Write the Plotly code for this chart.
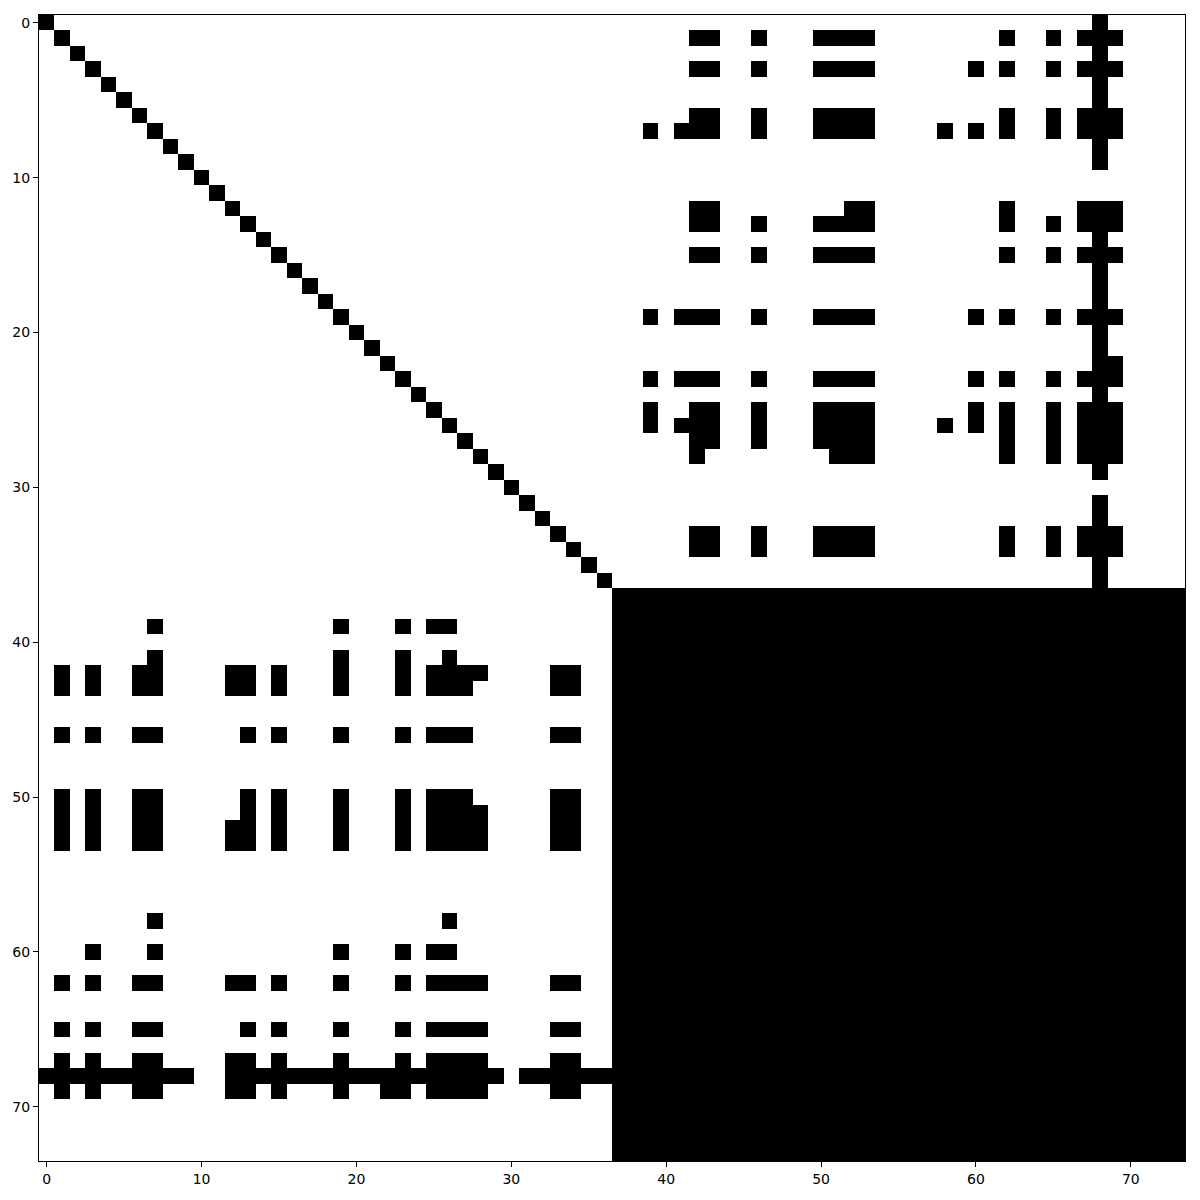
import numpy as np
import plotly.graph_objects as go

N = 74
SPLIT = 37  # first index of the dense lower-right block

# Non-zero columns (>= 37) in each of rows 0..36 of the upper-right block.
# The matrix is symmetric, so the lower-left block is the transpose of this.
upper_right_rows = {
    0: [68],
    1: [42, 43, 46, 50, 51, 52, 53, 62, 65, 67, 68, 69],
    2: [68],
    3: [42, 43, 46, 50, 51, 52, 53, 60, 62, 65, 67, 68, 69],
    4: [68],
    5: [68],
    6: [42, 43, 46, 50, 51, 52, 53, 62, 65, 67, 68, 69],
    7: [39, 41, 42, 43, 46, 50, 51, 52, 53, 58, 60, 62, 65, 67, 68, 69],
    8: [68],
    9: [68],
    10: [],
    11: [],
    12: [42, 43, 52, 53, 62, 67, 68, 69],
    13: [42, 43, 46, 50, 51, 52, 53, 62, 65, 67, 68, 69],
    14: [68],
    15: [42, 43, 46, 50, 51, 52, 53, 62, 65, 67, 68, 69],
    16: [68],
    17: [68],
    18: [68],
    19: [39, 41, 42, 43, 46, 50, 51, 52, 53, 60, 62, 65, 67, 68, 69],
    20: [68],
    21: [68],
    22: [68, 69],
    23: [39, 41, 42, 43, 46, 50, 51, 52, 53, 60, 62, 65, 67, 68, 69],
    24: [68],
    25: [39, 42, 43, 46, 50, 51, 52, 53, 60, 62, 65, 67, 68, 69],
    26: [39, 41, 42, 43, 46, 50, 51, 52, 53, 58, 60, 62, 65, 67, 68, 69],
    27: [42, 43, 46, 50, 51, 52, 53, 62, 65, 67, 68, 69],
    28: [42, 51, 52, 53, 62, 65, 67, 68, 69],
    29: [68],
    30: [],
    31: [68],
    32: [68],
    33: [42, 43, 46, 50, 51, 52, 53, 62, 65, 67, 68, 69],
    34: [42, 43, 46, 50, 51, 52, 53, 62, 65, 67, 68, 69],
    35: [68],
    36: [68],
}

tick_values = [0, 10, 20, 30, 40, 50, 60, 70]

# Build the matrix
M = np.zeros((N, N), dtype=int)
for i in range(SPLIT):
    M[i, i] = 1
for r, cols in upper_right_rows.items():
    for c in cols:
        M[r, c] = 1
        M[c, r] = 1
M[SPLIT:, SPLIT:] = 1

fig = go.Figure(
    go.Heatmap(
        z=M,
        x=list(range(N)),
        y=list(range(N)),
        colorscale=[[0, "white"], [1, "black"]],
        zmin=0,
        zmax=1,
        showscale=False,
        hoverinfo="skip",
    )
)

axis_common = dict(
    tickmode="array",
    tickvals=tick_values,
    ticktext=[str(v) for v in tick_values],
    ticks="outside",
    ticklen=5,
    tickwidth=1,
    tickcolor="black",
    showline=True,
    linecolor="black",
    linewidth=1,
    mirror=True,
    showgrid=False,
    zeroline=False,
    tickfont=dict(family="DejaVu Sans", size=14, color="black"),
)

fig.update_xaxes(range=[-0.5, N - 0.5], **axis_common)
fig.update_yaxes(range=[N - 0.5, -0.5], **axis_common)

fig.update_layout(
    width=1200,
    height=1200,
    margin=dict(l=39, r=15, t=15, b=39),
    paper_bgcolor="white",
    plot_bgcolor="white",
)

fig.write_html("out.html")
